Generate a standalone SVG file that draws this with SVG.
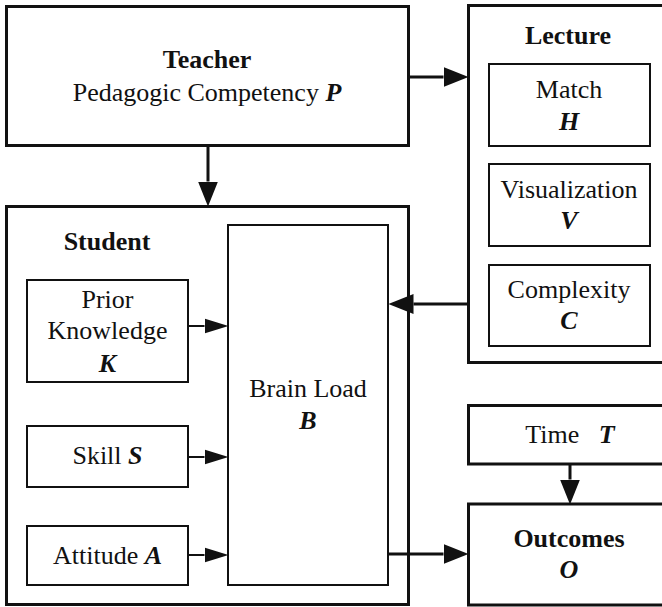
<svg xmlns="http://www.w3.org/2000/svg" width="662" height="607" viewBox="0 0 662 607">
<style>
.thick{fill:#fff;stroke:#111;stroke-width:3}
.thin{fill:#fff;stroke:#111;stroke-width:2}
text{font-family:"Liberation Serif","Times New Roman",serif;font-size:26px;fill:#111;text-anchor:middle}
.b{font-weight:bold}
.bi{font-weight:bold;font-style:italic}
.ct{stroke:#111;stroke-width:3;fill:none}
.cn{stroke:#111;stroke-width:2;fill:none}
</style>
<defs>
<marker id="ah" markerUnits="userSpaceOnUse" markerWidth="25" markerHeight="20" refX="0" refY="10" orient="auto">
<path d="M0,0 L25,10 L0,20 z" fill="#111"/>
</marker>
<marker id="as" markerUnits="userSpaceOnUse" markerWidth="24" markerHeight="16" refX="0" refY="8" orient="auto">
<path d="M0,0.5 L24,8 L0,15.5 z" fill="#111"/>
</marker>
</defs>
<rect width="662" height="607" fill="#fff"/>
<g id="teacher">
<rect class="thick" x="6.5" y="6.5" width="402" height="139"/>
<text class="b" x="207" y="68">Teacher</text>
<text x="207" y="101">Pedagogic Competency <tspan class="bi">P</tspan></text>
</g>
<g id="lecture">
<rect class="thick" x="468.5" y="5.5" width="200" height="357"/>
<text class="b" x="568" y="44">Lecture</text>
</g>
<g id="match">
<rect class="thin" x="489" y="64" width="161" height="82"/>
<text x="569" y="98">Match</text>
<text class="bi" x="569" y="130">H</text>
</g>
<g id="visualization">
<rect class="thin" x="489" y="164" width="161" height="82"/>
<text x="569" y="198">Visualization</text>
<text class="bi" x="569" y="229">V</text>
</g>
<g id="complexity">
<rect class="thin" x="489" y="265" width="161" height="81"/>
<text x="569" y="298">Complexity</text>
<text class="bi" x="569" y="329">C</text>
</g>
<g id="student">
<rect class="thick" x="6.5" y="206.5" width="402" height="398"/>
<text class="b" x="107" y="250">Student</text>
</g>
<g id="brainload">
<rect class="thin" x="228" y="225" width="160" height="360"/>
<text x="308" y="397">Brain Load</text>
<text class="bi" x="308" y="429">B</text>
</g>
<g id="priorknowledge">
<rect class="thin" x="27" y="280" width="161" height="102"/>
<text x="107.5" y="308">Prior</text>
<text x="107.5" y="339">Knowledge</text>
<text class="bi" x="107.5" y="372">K</text>
</g>
<g id="skill">
<rect class="thin" x="27" y="426" width="161" height="61"/>
<text x="107.5" y="464">Skill <tspan class="bi">S</tspan></text>
</g>
<g id="attitude">
<rect class="thin" x="27" y="526" width="161" height="59"/>
<text x="107.5" y="564">Attitude <tspan class="bi">A</tspan></text>
</g>
<g id="time">
<rect class="thick" x="468.5" y="405.5" width="200" height="58.5"/>
<text x="570" y="443" xml:space="preserve">Time   <tspan class="bi">T</tspan></text>
</g>
<g id="outcomes">
<rect class="thick" x="468.5" y="504" width="200" height="101"/>
<text class="b" x="569" y="547">Outcomes</text>
<text class="bi" x="569" y="578">O</text>
</g>
<g id="connectors">
<line class="ct" x1="408" y1="77" x2="443.5" y2="77" marker-end="url(#ah)"/>
<line class="ct" x1="208" y1="146" x2="208" y2="181.5" marker-end="url(#ah)"/>
<line class="ct" x1="468" y1="304" x2="413.5" y2="304" marker-end="url(#ah)"/>
<line class="ct" x1="388" y1="554" x2="443.5" y2="554" marker-end="url(#ah)"/>
<line class="ct" x1="570" y1="464" x2="570" y2="479.5" marker-end="url(#ah)"/>
<line class="cn" x1="188" y1="326" x2="204.5" y2="326" marker-end="url(#as)"/>
<line class="cn" x1="188" y1="457" x2="204.5" y2="457" marker-end="url(#as)"/>
<line class="cn" x1="188" y1="555" x2="204.5" y2="555" marker-end="url(#as)"/>
</g>
</svg>
